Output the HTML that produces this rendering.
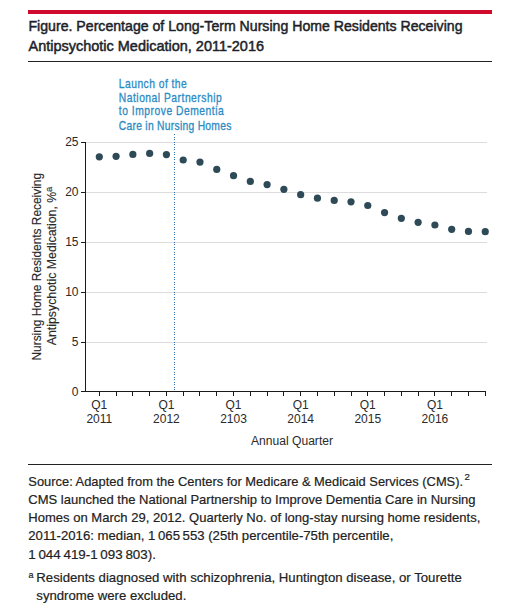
<!DOCTYPE html>
<html><head><meta charset="utf-8">
<style>
html,body{margin:0;padding:0;background:#fff;}
body{width:506px;height:609px;position:relative;overflow:hidden;font-family:"Liberation Sans",sans-serif;}
svg{position:absolute;left:0;top:0;}
text{font-family:"Liberation Sans",sans-serif;}
</style></head><body>
<svg width="506" height="609" viewBox="0 0 506 609">
<rect x="28" y="10" width="464" height="4" fill="#d00a2c"/>
<g font-size="14.8" fill="#1d1f2a" stroke="#1d1f2a" stroke-width="0.5">
<text x="28.5" y="30.6" textLength="434" lengthAdjust="spacingAndGlyphs">Figure. Percentage of Long-Term Nursing Home Residents Receiving</text>
<text x="28.5" y="51.1" textLength="235.5" lengthAdjust="spacingAndGlyphs">Antipsychotic Medication, 2011-2016</text>
</g>
<rect x="28" y="61" width="464" height="1" fill="#222"/>
<g fill="#dcdcdc">
<rect x="86" y="342" width="401" height="1"/>
<rect x="86" y="292" width="401" height="1"/>
<rect x="86" y="242" width="401" height="1"/>
<rect x="86" y="192" width="401" height="1"/>
<rect x="86" y="142" width="401" height="1"/>
</g>
<line x1="174.5" y1="390" x2="174.5" y2="134" stroke="#2f72ad" stroke-width="1" stroke-dasharray="1 1 1 2"/>
<g fill="#1a1a1a">
<rect x="85" y="142" width="1" height="250"/>
<rect x="85" y="391" width="401" height="1"/>
<rect x="81" y="391" width="4" height="1"/>
<rect x="81" y="342" width="4" height="1"/>
<rect x="81" y="292" width="4" height="1"/>
<rect x="81" y="242" width="4" height="1"/>
<rect x="81" y="192" width="4" height="1"/>
<rect x="81" y="142" width="4" height="1"/>
<rect x="99" y="392" width="1" height="4"/>
<rect x="116" y="392" width="1" height="4"/>
<rect x="132" y="392" width="1" height="4"/>
<rect x="149" y="392" width="1" height="4"/>
<rect x="166" y="392" width="1" height="4"/>
<rect x="183" y="392" width="1" height="4"/>
<rect x="199" y="392" width="1" height="4"/>
<rect x="216" y="392" width="1" height="4"/>
<rect x="233" y="392" width="1" height="4"/>
<rect x="250" y="392" width="1" height="4"/>
<rect x="267" y="392" width="1" height="4"/>
<rect x="283" y="392" width="1" height="4"/>
<rect x="300" y="392" width="1" height="4"/>
<rect x="317" y="392" width="1" height="4"/>
<rect x="334" y="392" width="1" height="4"/>
<rect x="351" y="392" width="1" height="4"/>
<rect x="367" y="392" width="1" height="4"/>
<rect x="384" y="392" width="1" height="4"/>
<rect x="401" y="392" width="1" height="4"/>
<rect x="418" y="392" width="1" height="4"/>
<rect x="434" y="392" width="1" height="4"/>
<rect x="451" y="392" width="1" height="4"/>
<rect x="468" y="392" width="1" height="4"/>
<rect x="485" y="392" width="1" height="4"/>
</g>
<g fill="#2e4a57">
<circle cx="99.30" cy="156.8" r="3.6"/>
<circle cx="116.08" cy="156.3" r="3.6"/>
<circle cx="132.86" cy="154.4" r="3.6"/>
<circle cx="149.64" cy="153.4" r="3.6"/>
<circle cx="166.42" cy="154.6" r="3.6"/>
<circle cx="183.20" cy="160.0" r="3.6"/>
<circle cx="199.98" cy="162.1" r="3.6"/>
<circle cx="216.76" cy="169.4" r="3.6"/>
<circle cx="233.54" cy="175.7" r="3.6"/>
<circle cx="250.32" cy="181.4" r="3.6"/>
<circle cx="267.10" cy="184.6" r="3.6"/>
<circle cx="283.88" cy="189.3" r="3.6"/>
<circle cx="300.66" cy="194.7" r="3.6"/>
<circle cx="317.44" cy="198.2" r="3.6"/>
<circle cx="334.22" cy="200.4" r="3.6"/>
<circle cx="351.00" cy="201.8" r="3.6"/>
<circle cx="367.78" cy="205.5" r="3.6"/>
<circle cx="384.56" cy="212.6" r="3.6"/>
<circle cx="401.34" cy="218.3" r="3.6"/>
<circle cx="418.12" cy="222.3" r="3.6"/>
<circle cx="434.90" cy="225.0" r="3.6"/>
<circle cx="451.68" cy="229.3" r="3.6"/>
<circle cx="468.46" cy="231.4" r="3.6"/>
<circle cx="485.24" cy="231.7" r="3.6"/>
</g>
<g font-size="12" fill="#2a2a2a">
<text x="78.5" y="396.3" text-anchor="end">0</text>
<text x="78.5" y="346.3" text-anchor="end">5</text>
<text x="78.5" y="296.3" text-anchor="end">10</text>
<text x="78.5" y="246.3" text-anchor="end">15</text>
<text x="78.5" y="196.3" text-anchor="end">20</text>
<text x="78.5" y="146.3" text-anchor="end">25</text>
<text x="99.30" y="408.5" text-anchor="middle">Q1</text><text x="99.30" y="422.5" text-anchor="middle">2011</text>
<text x="166.42" y="408.5" text-anchor="middle">Q1</text><text x="166.42" y="422.5" text-anchor="middle">2012</text>
<text x="233.54" y="408.5" text-anchor="middle">Q1</text><text x="233.54" y="422.5" text-anchor="middle">2103</text>
<text x="300.66" y="408.5" text-anchor="middle">Q1</text><text x="300.66" y="422.5" text-anchor="middle">2014</text>
<text x="367.78" y="408.5" text-anchor="middle">Q1</text><text x="367.78" y="422.5" text-anchor="middle">2015</text>
<text x="434.90" y="408.5" text-anchor="middle">Q1</text><text x="434.90" y="422.5" text-anchor="middle">2016</text>
<text x="251" y="444.8" textLength="82" lengthAdjust="spacingAndGlyphs">Annual Quarter</text>
</g>
<g font-size="12.8" fill="#2a2a2a" stroke="#2a2a2a" stroke-width="0.15">
<text transform="translate(40.8,360.5) rotate(-90)" textLength="187.5" lengthAdjust="spacingAndGlyphs">Nursing Home Residents Receiving</text>
<text transform="translate(55.9,345.3) rotate(-90)" textLength="153.5" lengthAdjust="spacingAndGlyphs">Antipsychotic Medication, %</text>
<text transform="translate(51.8,192) rotate(-90)" font-size="9.5">a</text>
</g>
<g font-size="12" fill="#2b8bc4" stroke="#2b8bc4" stroke-width="0.3">
<text transform="translate(118.8,87.7) scale(0.86,1)" textLength="79.07" lengthAdjust="spacing">Launch of the</text>
<text transform="translate(118.8,101.6) scale(0.86,1)" textLength="119.65" lengthAdjust="spacing">National Partnership</text>
<text transform="translate(118.8,115.4) scale(0.86,1)" textLength="122.09" lengthAdjust="spacing">to Improve Dementia</text>
<text transform="translate(118.8,129.5) scale(0.86,1)" textLength="130.93" lengthAdjust="spacing">Care in Nursing Homes</text>
</g>
<rect x="28" y="464" width="464" height="1" fill="#222"/>
<g font-size="13.2" fill="#222" stroke="#222" stroke-width="0.2">
<text x="28.3" y="485.6" textLength="434.8" lengthAdjust="spacingAndGlyphs">Source: Adapted from the Centers for Medicare &amp; Medicaid Services (CMS).</text>
<text x="28.3" y="503.7" textLength="447.3" lengthAdjust="spacingAndGlyphs">CMS launched the National Partnership to Improve Dementia Care in Nursing</text>
<text x="28.3" y="521.8" textLength="452" lengthAdjust="spacingAndGlyphs">Homes on March 29, 2012. Quarterly No. of long-stay nursing home residents,</text>
<text x="28.3" y="540.2" textLength="365" lengthAdjust="spacingAndGlyphs">2011-2016: median, 1&#8201;065&#8201;553 (25th percentile-75th percentile,</text>
<text x="28.3" y="558.5" textLength="127.6" lengthAdjust="spacingAndGlyphs">1&#8201;044&#8201;419-1&#8201;093&#8201;803).</text>
<text x="36.3" y="581.8" textLength="425.5" lengthAdjust="spacingAndGlyphs">Residents diagnosed with schizophrenia, Huntington disease, or Tourette</text>
<text x="36.3" y="600.0" textLength="150" lengthAdjust="spacingAndGlyphs">syndrome were excluded.</text>
<text x="464.4" y="480" font-size="9.6">2</text>
<text x="28.5" y="577.5" font-size="9">a</text>
</g>
</svg>
</body></html>
